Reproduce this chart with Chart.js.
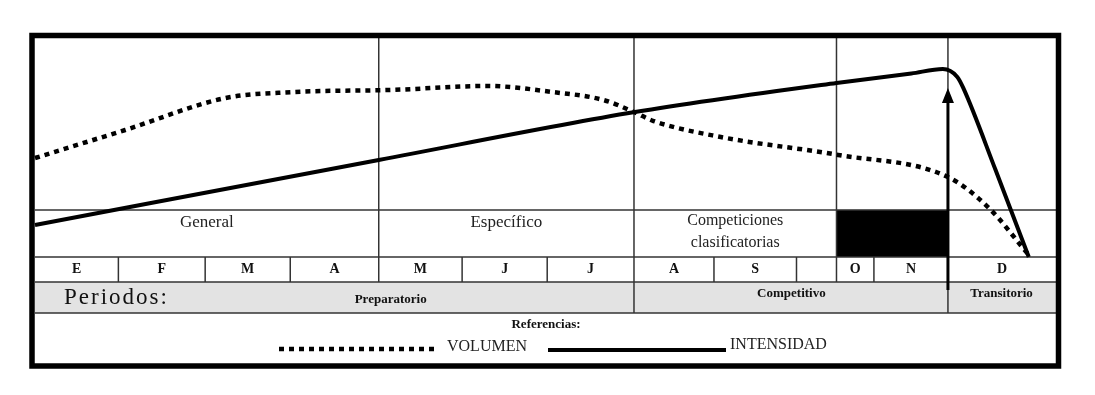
<!DOCTYPE html>
<html lang="es">
<head>
  <meta charset="UTF-8" />
  <title>Periodización - Volumen e Intensidad</title>
  <script src="https://cdn.jsdelivr.net/npm/chart.js"></script>
  <style>
    html, body { margin: 0; padding: 0; background: #fff; }
    #wrap { width: 1095px; height: 395px; position: relative; }
  </style>
</head>
<body>
  <div id="wrap"><canvas id="plan"></canvas></div>

  <script>
    // x axis: months from start of January (0) to end of December (12)
    const monthLabels = ['E', 'F', 'M', 'A', 'M', 'J', 'J', 'A', 'S', '', 'O', 'N', 'D'];
    const monthEdges = [0, 0.98, 2.0, 3.0, 4.04, 5.02, 6.02, 7.04, 7.98, 8.95, 9.42, 9.86, 10.73, 12];

    const phaseLabels = ['General', 'Específico', 'Competiciones\nclasificatorias', '', ''];
    const phaseEdges = [0, 4.04, 7.04, 9.42, 10.73, 12];
    const phaseFilled = [false, false, false, true, false];

    const periodLabels = ['Preparatorio', 'Competitivo', 'Transitorio'];
    const periodEdges = [0, 7.04, 10.73, 12];
    const periodLabelX = [4.18, 8.89, 11.36];

    // curves (y: 0 = bottom of phase row, 100 = top of frame)
    const intensidadX = [0, 4.04, 7.05, 9.42, 10.3, 10.67, 10.84, 10.91, 11.29, 11.68];
    const intensidadY = [14.6, 44.3, 66.2, 79.5, 83.8, 85.8, 82.2, 77.2, 39.7, 0];

    const volumenX = [0, 1.06, 2.24, 3.02, 4.2, 5.32, 6.09, 6.68, 7.04, 7.27, 8.06, 9.44, 10.73, 11.2, 11.68];
    const volumenY = [45.2, 58.0, 72.6, 75.3, 76.3, 78.1, 75.3, 71.7, 66.2, 62.1, 54.8, 46.6, 36.5, 22.8, 0.9];

    const phaseLineY = 21.5;   // horizontal line between curves and phase row
    const peakArrowX = 10.73;
    const peakArrowY = 77.2;

    const toPoints = (xs, ys) => xs.map((x, i) => ({ x: x, y: ys[i] }));
    const serif = '"Liberation Serif", "DejaVu Serif", serif';
    const lineCol = '#333';

    const tablePlugin = {
      id: 'tablePlugin',
      beforeDatasetsDraw(chart) {
        const ctx = chart.ctx;
        const xs = chart.scales.x, ys = chart.scales.y;
        const px = v => xs.getPixelForValue(v);
        const left = px(0), right = px(12);
        const top = chart.chartArea.top;
        const phaseTop = ys.getPixelForValue(phaseLineY);
        const monthTop = ys.getPixelForValue(0);
        const monthBottom = monthTop + 25;
        const periodBottom = monthBottom + 31;

        ctx.save();
        // periodos row background
        ctx.fillStyle = '#e3e3e3';
        ctx.fillRect(left, monthBottom, right - left, periodBottom - monthBottom);

        // black competition block
        phaseFilled.forEach((f, i) => {
          if (!f) return;
          ctx.fillStyle = '#000';
          ctx.fillRect(px(phaseEdges[i]), phaseTop, px(phaseEdges[i + 1]) - px(phaseEdges[i]), monthTop - phaseTop);
        });

        ctx.strokeStyle = lineCol;
        ctx.lineWidth = 1.5;
        const hline = (y) => { ctx.beginPath(); ctx.moveTo(left, y); ctx.lineTo(right, y); ctx.stroke(); };
        const vline = (x, y0, y1) => { ctx.beginPath(); ctx.moveTo(x, y0); ctx.lineTo(x, y1); ctx.stroke(); };
        hline(phaseTop);
        hline(monthTop);
        hline(monthBottom);
        hline(periodBottom);

        // phase dividers run through the full plot region
        phaseEdges.slice(1, -1).forEach(e => vline(px(e), top, monthTop));
        monthEdges.slice(1, -1).forEach(e => vline(px(e), monthTop, monthBottom));
        periodEdges.slice(1, -1).forEach(e => vline(px(e), monthBottom, periodBottom));

        // phase labels
        ctx.fillStyle = '#222';
        ctx.textAlign = 'center';
        ctx.textBaseline = 'middle';
        phaseLabels.forEach((lab, i) => {
          if (!lab) return;
          const cx = (px(phaseEdges[i]) + px(phaseEdges[i + 1])) / 2;
          const lines = lab.split('\n');
          if (lines.length === 1) {
            ctx.font = '17px ' + serif;
            ctx.fillText(lab, cx, phaseTop + 13);
          } else {
            ctx.font = '16px ' + serif;
            ctx.fillText(lines[0], cx, phaseTop + 11);
            ctx.fillText(lines[1], cx, phaseTop + 33);
          }
        });

        // month labels
        ctx.fillStyle = '#111';
        ctx.font = 'bold 14px ' + serif;
        monthLabels.forEach((lab, i) => {
          const cx = (px(monthEdges[i]) + px(monthEdges[i + 1])) / 2;
          ctx.fillText(lab, cx, monthTop + 12);
        });

        // period labels
        ctx.font = 'bold 13px ' + serif;
        periodLabels.forEach((lab, i) => {
          ctx.fillText(lab, px(periodLabelX[i]), monthBottom + (i === 0 ? 18 : 12));
        });
        ctx.font = '23px ' + serif;
        ctx.textAlign = 'left';
        ctx.letterSpacing = '2px';
        ctx.fillText('Periodos:', 64, monthBottom + 16);
        ctx.letterSpacing = '0px';
        ctx.restore();
      },
      afterDraw(chart) {
        const ctx = chart.ctx;
        const xs = chart.scales.x, ys = chart.scales.y;
        const ax = xs.getPixelForValue(peakArrowX);
        const tip = ys.getPixelForValue(peakArrowY);
        const monthBottom = ys.getPixelForValue(0) + 25;

        ctx.save();
        // peak arrow
        ctx.strokeStyle = '#000';
        ctx.fillStyle = '#000';
        ctx.lineWidth = 3;
        ctx.beginPath();
        ctx.moveTo(ax, tip + 10);
        ctx.lineTo(ax, monthBottom + 8);
        ctx.stroke();
        ctx.beginPath();
        ctx.moveTo(ax, tip);
        ctx.lineTo(ax - 6, tip + 15);
        ctx.lineTo(ax + 6, tip + 15);
        ctx.closePath();
        ctx.fill();

        // references
        ctx.fillStyle = '#111';
        ctx.textAlign = 'center';
        ctx.textBaseline = 'middle';
        ctx.font = 'bold 13px ' + serif;
        ctx.fillText('Referencias:', 546, 325);

        ctx.lineWidth = 4.5;
        ctx.setLineDash([5, 5]);
        ctx.beginPath();
        ctx.moveTo(279, 349);
        ctx.lineTo(437, 349);
        ctx.stroke();
        ctx.setLineDash([]);
        ctx.lineWidth = 4;
        ctx.beginPath();
        ctx.moveTo(548, 350);
        ctx.lineTo(726, 350);
        ctx.stroke();

        ctx.textAlign = 'left';
        ctx.font = '16px ' + serif;
        ctx.fillStyle = '#222';
        ctx.fillText('VOLUMEN', 447, 347);
        ctx.fillText('INTENSIDAD', 730, 345);

        // outer frame
        ctx.lineWidth = 5.5;
        ctx.strokeStyle = '#000';
        ctx.strokeRect(32, 35.5, 1058.5 - 32, 366 - 35.5);
        ctx.restore();
      }
    };

    new Chart(document.getElementById('plan'), {
      type: 'line',
      data: {
        datasets: [
          {
            label: 'VOLUMEN',
            data: toPoints(volumenX, volumenY),
            borderColor: '#000',
            borderWidth: 4.5,
            borderDash: [5, 5],
            borderCapStyle: 'butt',
            cubicInterpolationMode: 'monotone',
            pointRadius: 0,
            fill: false,
            clip: false
          },
          {
            label: 'INTENSIDAD',
            data: toPoints(intensidadX, intensidadY),
            borderColor: '#000',
            borderWidth: 4,
            cubicInterpolationMode: 'monotone',
            pointRadius: 0,
            fill: false,
            clip: false
          }
        ]
      },
      options: {
        responsive: true,
        maintainAspectRatio: false,
        animation: false,
        layout: { padding: { left: 35, right: 39, top: 38, bottom: 138 } },
        plugins: { legend: { display: false }, tooltip: { enabled: false } },
        scales: {
          x: { type: 'linear', min: 0, max: 12, display: false },
          y: { min: 0, max: 100, display: false }
        }
      },
      plugins: [tablePlugin]
    });
  </script>
</body>
</html>
